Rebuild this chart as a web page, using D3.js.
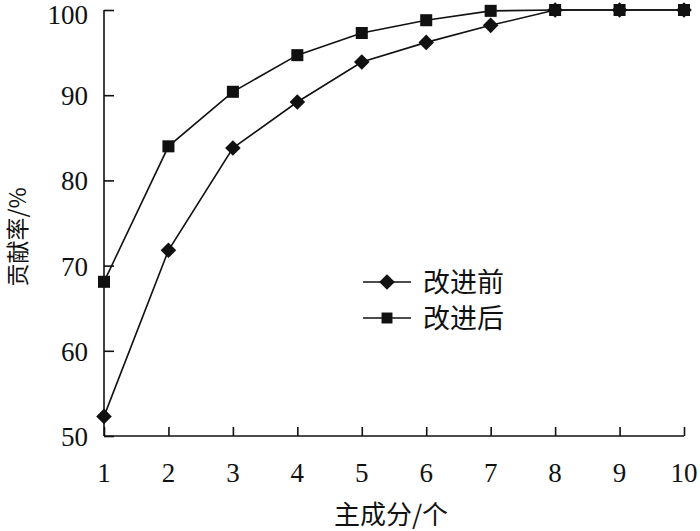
<!DOCTYPE html>
<html>
<head>
<meta charset="utf-8">
<script src="https://cdn.jsdelivr.net/npm/d3@7"></script>
<style>
  body { margin: 0; background: #fff; }
  .num { font-family: "Liberation Serif", "Times New Roman", Times, serif; }
</style>
</head>
<body>
<script>
// data
const components = [1, 2, 3, 4, 5, 6, 7, 8, 9, 10];
const before = [52.3, 71.8, 83.8, 89.2, 93.9, 96.2, 98.2, 100, 100, 100];
const after = [68.1, 84.0, 90.4, 94.7, 97.3, 98.8, 99.9, 100, 100, 100];
const seriesNames = ["改进前", "改进后"];
const yTicks = [50, 60, 70, 80, 90, 100];

function init() {
  const svg = d3.select("body").append("svg")
    .attr("width", 700)
    .attr("height", 531)
    .style("background-color", "#fff");

  const x = d3.scaleLinear().domain([1, 10]).range([104, 684]);
  const y = d3.scaleLinear().domain([50, 100]).range([436, 10]);

  const cjkFont = "Noto Sans CJK SC, sans-serif";

  // axes
  const xAxis = svg.append("g")
    .attr("transform", "translate(0,436)")
    .call(d3.axisTop(x).tickValues(components).tickSize(9).tickFormat(""));
  xAxis.select(".domain").attr("d", "M104,0H684");

  const yAxis = svg.append("g")
    .attr("transform", "translate(104,0)")
    .call(d3.axisRight(y).tickValues(yTicks).tickSize(10).tickFormat(""));
  yAxis.select(".domain").attr("d", "M0,436V10");

  svg.selectAll(".domain, .tick line")
    .attr("stroke", "#111")
    .attr("stroke-width", 1.6);

  // tick labels
  svg.selectAll(".xlab").data(components).enter().append("text")
    .attr("class", "num")
    .attr("x", d => x(d))
    .attr("y", 482)
    .attr("text-anchor", "middle")
    .attr("font-size", "27px")
    .attr("fill", "#111")
    .text(d => d);

  svg.selectAll(".ylab").data(yTicks).enter().append("text")
    .attr("class", "num")
    .attr("x", 88)
    .attr("y", d => Math.max(y(d) + 10, 24))
    .attr("text-anchor", "end")
    .attr("font-size", "27px")
    .attr("fill", "#111")
    .text(d => d);

  // axis titles
  svg.append("text")
    .style("font-family", cjkFont)
    .attr("x", 391)
    .attr("y", 524)
    .attr("text-anchor", "middle")
    .attr("font-size", "26px")
    .attr("fill", "#111")
    .text("主成分/个");

  svg.append("text")
    .style("font-family", cjkFont)
    .attr("transform", "translate(26,237) rotate(-90)")
    .attr("text-anchor", "middle")
    .attr("font-size", "23px")
    .attr("fill", "#111")
    .text("贡献率/%");

  const line = d3.line()
    .x((d, i) => x(components[i]))
    .y(d => y(d));

  const diamond = d3.symbol().type(d3.symbolDiamond2).size(155);
  const square = d3.symbol().type(d3.symbolSquare).size(145);

  // 改进后 (squares)
  svg.append("path")
    .attr("d", line(after))
    .attr("fill", "none")
    .attr("stroke", "#111")
    .attr("stroke-width", 1.6);
  svg.selectAll(".sq").data(after).enter().append("path")
    .attr("transform", (d, i) => `translate(${x(components[i])},${y(d)})`)
    .attr("d", square)
    .attr("fill", "#111");

  // 改进前 (diamonds)
  svg.append("path")
    .attr("d", line(before))
    .attr("fill", "none")
    .attr("stroke", "#111")
    .attr("stroke-width", 1.6);
  svg.selectAll(".dm").data(before).enter().append("path")
    .attr("transform", (d, i) => `translate(${x(components[i])},${y(d)})`)
    .attr("d", diamond)
    .attr("fill", "#111");

  // legend
  const legend = svg.append("g");
  const rows = [282, 318];
  seriesNames.forEach((name, i) => {
    legend.append("line")
      .attr("x1", 363).attr("x2", 411)
      .attr("y1", rows[i]).attr("y2", rows[i])
      .attr("stroke", "#111")
      .attr("stroke-width", 1.6);
    legend.append("path")
      .attr("transform", `translate(387,${rows[i]})`)
      .attr("d", i === 0 ? diamond : d3.symbol().type(d3.symbolSquare).size(120))
      .attr("fill", "#111");
    legend.append("text")
      .style("font-family", cjkFont)
      .attr("x", 423)
      .attr("y", rows[i] + 10)
      .attr("font-size", "27px")
      .attr("fill", "#111")
      .text(name);
  });
}

init();
</script>
</body>
</html>
